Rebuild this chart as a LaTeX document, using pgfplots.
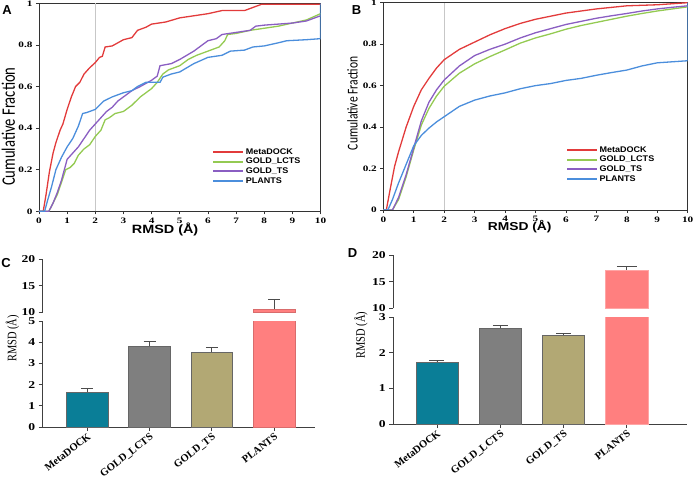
\documentclass[border=0pt]{standalone}
\usepackage{pgfplots}
\pgfplotsset{compat=1.18}
\usepackage{fontspec}
\setmainfont{Liberation Serif}
\newfontfamily\tickABf[FakeStretch=1.35]{Liberation Serif}
\newfontfamily\tickCDf[FakeStretch=1.3]{Liberation Serif}
\newfontfamily\catf{Liberation Serif}
\newfontfamily\rmsdABf[FakeStretch=1.2]{Liberation Sans}
\newfontfamily\legf[FakeStretch=1.1]{Liberation Sans}
\newfontfamily\cumf[FakeStretch=0.77]{Carlito}
\newfontfamily\ylabCDf[FakeStretch=0.8]{Liberation Serif}
\newfontfamily\panelf{Liberation Sans}
\newcommand\fsz[1]{\fontsize{#1}{#1}\selectfont}

\definecolor{cMeta}{HTML}{E23B3B}
\definecolor{cLCTS}{HTML}{94CA52}
\definecolor{cTS}{HTML}{8A5EC2}
\definecolor{cPL}{HTML}{4B8EDC}
\definecolor{bTeal}{HTML}{0A7E97}
\definecolor{bGray}{HTML}{7F7F7F}
\definecolor{bKhaki}{HTML}{B2A874}
\definecolor{bSalmon}{HTML}{FF7F7F}

\pgfplotsset{
  cdfaxis/.style={
    anchor=south west, scale only axis,
    xmin=0, xmax=10, ymin=0, ymax=1,
    xtick={0,1,2,3,4,5,6,7,8,9,10},
    ytick={0,0.2,0.4,0.6,0.8,1},
    tick pos=left, tick align=outside, major tick length=3pt,
    tick style={black!80, line width=0.6pt},
    axis line style={black!80, line width=0.9pt},
    /pgf/number format/assume math mode=true,
    ticklabel style={font=\tickABf\bfseries\fsz{8.3}},
    legend cell align=left,
    legend image code/.code={\draw[##1, line width=2pt] (0pt,0pt) -- (30pt,0pt);},
    every axis plot/.append style={line width=1.3pt},
  },
  baraxis/.style={
    anchor=south west, scale only axis,
    axis line style={-, black!75, line width=0.9pt},
    tick align=outside, major tick length=4pt,
    tick style={black!75, line width=0.8pt},
    /pgf/number format/assume math mode=true,
    yticklabel style={font=\tickCDf\bfseries\fsz{10.5}},
  },
  onebar/.style={ybar, bar shift=0pt, draw=#1, line width=0.6pt,
    error bars/y dir=plus, error bars/y explicit,
    error bars/error bar style={black!70, line width=0.9pt},
    error bars/error mark options={black!70, line width=0.9pt, rotate=90, mark size=6pt}},
  capsize/.style={error bars/error mark options={black!70, line width=0.9pt, rotate=90, mark size=#1}},
}

\begin{document}
\begin{tikzpicture}[x=1pt,y=1pt]
\path[use as bounding box] (0,0) rectangle (693,480);

% ---------------- Panel A ----------------
\begin{axis}[cdfaxis, at={(39pt,268.7pt)}, width=281.5pt, height=208pt,
  xlabel={RMSD (Å)}, ylabel={Cumulative Fraction},
  every axis x label/.style={at={(axis description cs:0.448,-0.088)}, anchor=center, font=\rmsdABf\bfseries\fsz{12}},
  every axis y label/.style={at={(axis description cs:-0.109,0.407)}, anchor=center, rotate=90, font=\cumf\fsz{19}},
  legend style={at={(axis description cs:0.615,0.31)}, anchor=north west, draw=none, fill=none,
    font=\legf\bfseries\fsz{8.2}, inner sep=0pt, row sep=-0.6pt, nodes={inner sep=1.5pt}},
]
\addplot[black!22, line width=1.3pt, forget plot] coordinates {(2,0) (2,1)};
\addplot[cMeta] coordinates {(0,0)(0.15,0)(0.25,0.08)(0.37,0.19)(0.5,0.28)(0.6,0.33)(0.75,0.39)(0.85,0.42)(1,0.49)(1.15,0.55)(1.3,0.6)(1.45,0.62)(1.6,0.66)(1.8,0.69)(2,0.715)(2.15,0.74)(2.25,0.745)(2.35,0.79)(2.6,0.795)(2.8,0.81)(3,0.825)(3.3,0.835)(3.5,0.87)(3.8,0.885)(4,0.9)(4.5,0.91)(5,0.93)(5.5,0.94)(6,0.95)(6.5,0.965)(7.3,0.965)(7.6,0.98)(7.9,0.995)(10,0.995)};
\addlegendentry{MetaDOCK}
\addplot[cLCTS] coordinates {(0,0)(0.35,0)(0.5,0.04)(0.65,0.08)(0.8,0.14)(0.95,0.2)(1.1,0.21)(1.25,0.23)(1.4,0.27)(1.6,0.3)(1.8,0.32)(2,0.36)(2.2,0.39)(2.35,0.44)(2.5,0.45)(2.7,0.47)(3,0.48)(3.3,0.51)(3.6,0.55)(4,0.59)(4.2,0.62)(4.4,0.66)(4.6,0.68)(5,0.7)(5.3,0.73)(5.6,0.75)(6,0.77)(6.4,0.79)(6.6,0.82)(6.7,0.85)(7,0.855)(7.5,0.87)(8,0.88)(8.5,0.89)(9,0.905)(9.5,0.92)(10,0.95)};
\addlegendentry{GOLD\_LCTS}
\addplot[cTS] coordinates {(0,0)(0.35,0)(0.5,0.04)(0.65,0.09)(0.8,0.15)(1,0.25)(1.2,0.28)(1.4,0.31)(1.6,0.35)(1.8,0.39)(2,0.42)(2.2,0.45)(2.4,0.48)(2.6,0.5)(2.8,0.53)(3,0.55)(3.3,0.58)(3.6,0.6)(4,0.63)(4.2,0.65)(4.3,0.7)(4.7,0.71)(5,0.73)(5.5,0.77)(6,0.82)(6.3,0.83)(6.5,0.85)(7,0.86)(7.5,0.87)(7.7,0.89)(8,0.895)(8.5,0.9)(9,0.905)(9.5,0.915)(10,0.94)};
\addlegendentry{GOLD\_TS}
\addplot[cPL] coordinates {(0,0)(0.2,0)(0.3,0.05)(0.45,0.12)(0.6,0.2)(0.8,0.26)(1,0.31)(1.2,0.35)(1.4,0.41)(1.55,0.47)(1.7,0.475)(2,0.49)(2.3,0.53)(2.6,0.55)(3,0.57)(3.3,0.58)(3.5,0.6)(3.8,0.62)(4.3,0.62)(4.4,0.645)(4.7,0.66)(5,0.67)(5.5,0.71)(6,0.74)(6.5,0.75)(6.8,0.77)(7.3,0.775)(7.6,0.79)(8,0.795)(8.5,0.81)(8.8,0.82)(9.5,0.825)(10,0.83)(10,1)};
\addlegendentry{PLANTS}
\end{axis}

% ---------------- Panel B ----------------
\begin{axis}[cdfaxis, at={(383.3pt,270pt)}, width=304.4pt, height=207.3pt,
  xlabel={RMSD (Å)}, ylabel={Cumulative Fraction},
  every axis x label/.style={at={(axis description cs:0.448,-0.078)}, anchor=center, font=\rmsdABf\bfseries\fsz{11.5}},
  every axis y label/.style={at={(axis description cs:-0.101,0.515)}, anchor=center, rotate=90, font=\cumf\fsz{15}},
  legend style={at={(axis description cs:0.6,0.315)}, anchor=north west, draw=none, fill=none,
    font=\legf\bfseries\fsz{8.2}, inner sep=0pt, row sep=-0.6pt, nodes={inner sep=1.5pt}},
]
\addplot[black!22, line width=1.3pt, forget plot] coordinates {(2,0) (2,1)};
\addplot[cMeta] coordinates {(0,0)(0.1,0)(0.2,0.08)(0.37,0.21)(0.5,0.28)(0.75,0.4)(1,0.5)(1.25,0.58)(1.5,0.635)(1.75,0.685)(2,0.725)(2.5,0.775)(3,0.81)(3.5,0.845)(4,0.875)(4.5,0.9)(5,0.92)(5.5,0.935)(6,0.95)(6.5,0.96)(7,0.97)(8,0.985)(9,0.99)(10,1.0)};
\addlegendentry{MetaDOCK}
\addplot[cLCTS] coordinates {(0,0)(0.3,0)(0.5,0.05)(0.75,0.16)(1,0.29)(1.25,0.41)(1.5,0.49)(1.75,0.55)(2,0.597)(2.5,0.66)(3,0.705)(3.5,0.74)(4,0.772)(4.5,0.805)(5,0.83)(5.5,0.85)(6,0.872)(6.5,0.89)(7,0.905)(7.5,0.92)(8,0.935)(8.5,0.948)(9,0.96)(9.5,0.97)(10,0.98)};
\addlegendentry{GOLD\_LCTS}
\addplot[cTS] coordinates {(0,0)(0.3,0)(0.5,0.06)(0.75,0.17)(1,0.3)(1.25,0.43)(1.5,0.52)(1.75,0.58)(2,0.627)(2.5,0.695)(3,0.745)(3.5,0.775)(4,0.8)(4.5,0.83)(5,0.855)(5.5,0.875)(6,0.895)(6.5,0.91)(7,0.925)(7.5,0.937)(8,0.948)(8.5,0.96)(9,0.97)(9.5,0.978)(10,0.985)};
\addlegendentry{GOLD\_TS}
\addplot[cPL] coordinates {(0,0)(0.15,0)(0.3,0.05)(0.5,0.13)(0.75,0.22)(1,0.31)(1.25,0.36)(1.5,0.395)(1.75,0.425)(2,0.45)(2.5,0.5)(3,0.53)(3.5,0.55)(4,0.565)(4.5,0.585)(5,0.6)(5.5,0.61)(6,0.625)(6.5,0.635)(7,0.65)(7.5,0.663)(8,0.675)(8.5,0.695)(9,0.71)(9.5,0.715)(10,0.72)(10,1)};
\addlegendentry{PLANTS}
\end{axis}

% ---------------- Panel C (broken axis) ----------------
\begin{axis}[axis lines=left, baraxis, at={(42.7pt,53pt)}, width=272.3pt, height=106pt,
  xmin=-0.716, xmax=3.658, ymin=0, ymax=5, ytick={0,1,2,3,4,5},
  xtick={0,1,2,3}, xticklabels={MetaDOCK,GOLD\_LCTS,GOLD\_TS,PLANTS},
  xticklabel style={rotate=38, anchor=north east, font=\catf\bfseries\fsz{10.5}, inner sep=1pt},
  ylabel={RMSD (Å)},
  every axis y label/.style={at={(axis description cs:-0.111,0.837)}, anchor=center, rotate=90, font=\ylabCDf\fsz{13}},
]
\addplot[onebar=black!60, fill=bTeal, bar width=41.7pt] coordinates {(0,1.65) +- (0,0.15)};
\addplot[onebar=black!60, fill=bGray, bar width=41.7pt] coordinates {(1,3.8) +- (0,0.23)};
\addplot[onebar=black!60, fill=bKhaki, bar width=41.7pt] coordinates {(2,3.52) +- (0,0.23)};
\addplot[onebar=bSalmon!85!black, fill=bSalmon, bar width=41.7pt] coordinates {(3,10.65) +- (0,1.75)};
\end{axis}
\begin{axis}[axis x line=none, axis y line=left, baraxis, at={(42.7pt,167.7pt)}, width=272.3pt, height=53pt,
  xmin=-0.716, xmax=3.658, ymin=10, ymax=20, ytick={10,15,20}, xtick=\empty,
]
\addplot[onebar=bSalmon!85!black, fill=bSalmon, bar width=41.7pt] coordinates {(3,10.65) +- (0,1.75)};
\end{axis}

% ---------------- Panel D (broken axis) ----------------
\begin{axis}[axis lines=left, baraxis, at={(393.3pt,56pt)}, width=293.4pt, height=107pt,
  xmin=-0.69, xmax=3.945, ymin=0, ymax=3, ytick={0,1,2,3},
  xtick={0,1,2,3}, xticklabels={MetaDOCK,GOLD\_LCTS,GOLD\_TS,PLANTS},
  xticklabel style={rotate=38, anchor=north east, font=\catf\bfseries\fsz{10.5}, inner sep=1pt},
  ylabel={RMSD (Å)},
  every axis y label/.style={at={(axis description cs:-0.110,0.832)}, anchor=center, rotate=90, font=\ylabCDf\fsz{13}},
]
\addplot[onebar=black!60, fill=bTeal, bar width=42.3pt, capsize=7.5pt] coordinates {(0,1.74) +- (0,0.04)};
\addplot[onebar=black!60, fill=bGray, bar width=42.3pt, capsize=7.5pt] coordinates {(1,2.69) +- (0,0.06)};
\addplot[onebar=black!60, fill=bKhaki, bar width=42.3pt, capsize=7.5pt] coordinates {(2,2.5) +- (0,0.04)};
\addplot[onebar=bSalmon!70!white, fill=bSalmon, bar width=42.3pt, capsize=10pt] coordinates {(3,17.2) +- (0,0.7)};
\end{axis}
\begin{axis}[axis x line=none, axis y line=left, baraxis, at={(393.3pt,171.7pt)}, width=293.4pt, height=53.3pt,
  xmin=-0.69, xmax=3.945, ymin=10, ymax=20, ytick={10,15,20}, xtick=\empty,
]
\addplot[onebar=bSalmon!70!white, fill=bSalmon, bar width=42.3pt, capsize=10pt] coordinates {(3,17.2) +- (0,0.7)};
\end{axis}

% panel letters
\node[font=\panelf\bfseries\fsz{13}] at (7,470) {A};
\node[font=\panelf\bfseries\fsz{13}] at (356.5,470) {B};
\node[font=\panelf\bfseries\fsz{13}] at (6,217) {C};
\node[font=\panelf\bfseries\fsz{13}] at (352.5,227) {D};
\end{tikzpicture}
\end{document}
